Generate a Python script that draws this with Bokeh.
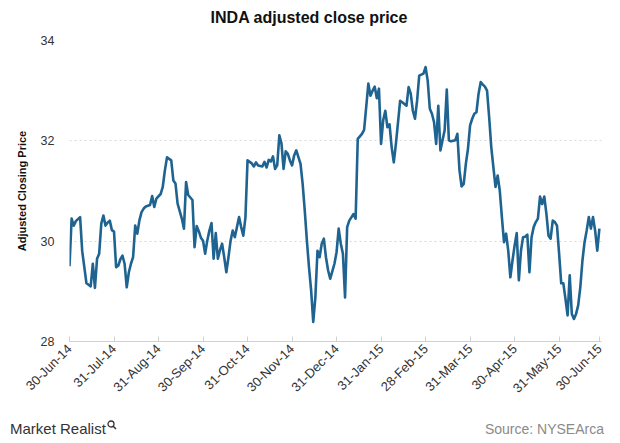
import math
from bokeh.plotting import figure
from bokeh.models import Range1d, FixedTicker, Div
from bokeh.layouts import column
from bokeh.embed import file_html
from bokeh.resources import INLINE

# trading-day index (0 = 30-Jun-14) and adjusted close price
day = [0, 1, 2, 3, 5, 6, 8, 9, 10, 11, 12, 13, 14, 15, 16, 17, 18, 19, 20, 21,
       22, 23, 24, 25, 26, 27, 28, 29, 30, 31, 32, 33, 34, 35, 36, 38, 39, 40, 41, 43,
       44, 45, 46, 47, 48, 49, 50, 51, 53, 54, 55, 56, 57, 58, 59, 60, 61, 62, 63, 64,
       65, 66, 67, 68, 69, 70, 71, 72, 73, 74, 75, 76, 77, 78, 79, 80, 81, 82, 83, 84,
       86, 87, 88, 89, 91, 92, 93, 94, 95, 96, 97, 98, 99, 100, 101, 102, 103, 104, 105, 106,
       107, 109, 110, 111, 112, 113, 114, 115, 116, 117, 118, 119, 120, 121, 122, 123, 125, 126, 127, 128,
       129, 130, 131, 132, 134, 135, 136, 138, 139, 141, 142, 143, 144, 145, 146, 147, 148, 149, 150, 151,
       152, 153, 154, 156, 157, 159, 160, 161, 162, 163, 164, 165, 167, 168, 169, 170, 171, 172, 173, 174,
       175, 176, 177, 178, 179, 180, 182, 183, 184, 185, 186, 187, 188, 189, 190, 191, 192, 193, 194, 195,
       196, 197, 198, 199, 200, 201, 202, 203, 204, 205, 206, 207, 208, 209, 210, 211, 212, 213, 214, 215,
       216, 217, 218, 219, 220, 221, 222, 223, 224, 225, 226, 227, 228, 229, 230, 231, 232, 233, 234, 235,
       236, 237, 238, 239, 240, 241, 242, 243, 244, 245, 246, 247, 248, 249, 250]
price = [29.50, 30.45, 30.31, 30.40, 30.48, 29.80, 29.16, 29.13, 29.10, 29.55, 29.07, 29.65, 29.75, 30.35, 30.51, 30.31, 30.37, 30.41, 30.22, 30.19,
         29.48, 29.51, 29.64, 29.71, 29.55, 29.08, 29.38, 29.55, 29.68, 30.31, 30.15, 30.42, 30.58, 30.65, 30.69, 30.72, 30.90, 30.68, 30.85, 30.94,
         31.08, 31.41, 31.67, 31.64, 31.61, 31.21, 31.15, 30.75, 30.45, 30.25, 31.18, 30.92, 30.87, 30.82, 29.88, 30.30, 30.20, 30.07, 30.01, 29.75,
         30.01, 30.21, 30.36, 29.65, 30.16, 29.65, 29.82, 29.95, 29.68, 29.38, 29.68, 30.01, 30.21, 30.08, 30.28, 30.48, 30.28, 30.11, 30.47, 31.61,
         31.55, 31.49, 31.57, 31.51, 31.49, 31.58, 31.47, 31.62, 31.59, 31.69, 31.44, 31.51, 32.11, 31.95, 31.44, 31.79, 31.74, 31.61, 31.51, 31.71,
         31.81, 31.54, 31.14, 30.61, 30.01, 29.48, 29.02, 28.39, 28.88, 29.81, 29.68, 29.95, 30.05, 29.68, 29.42, 29.25, 29.55, 29.78, 30.25, 29.95,
         29.75, 28.88, 30.28, 30.41, 30.54, 30.45, 32.04, 32.14, 32.22, 33.14, 32.90, 33.00, 33.08, 32.85, 33.04, 31.94, 32.41, 32.60, 32.27, 32.33,
         31.87, 31.57, 31.94, 32.80, 32.77, 32.70, 33.07, 32.94, 32.60, 32.44, 32.80, 33.30, 33.34, 33.47, 33.20, 32.64, 32.54, 32.37, 31.94, 32.70,
         31.81, 32.01, 32.21, 33.02, 32.01, 31.99, 32.01, 32.14, 31.41, 31.09, 31.14, 31.54, 31.84, 32.31, 32.44, 32.54, 32.57, 32.94, 33.17, 33.12,
         33.08, 33.00, 32.47, 31.87, 31.47, 31.08, 31.31, 31.01, 30.48, 29.98, 30.15, 29.81, 29.28, 29.61, 29.91, 30.16, 29.22, 29.81, 30.08, 30.09,
         30.13, 29.38, 30.08, 30.28, 30.38, 30.45, 30.89, 30.74, 30.89, 30.55, 30.11, 30.05, 30.41, 30.38, 30.31, 29.75, 29.16, 29.16, 28.85, 28.52,
         29.32, 28.55, 28.45, 28.55, 28.72, 29.08, 29.61, 29.98, 30.21, 30.48, 30.25, 30.48, 30.21, 29.81, 30.25]

tick_days = [0, 21, 42, 63, 84, 105, 126, 147, 168, 189, 210, 231, 250]
tick_labels = ["30-Jun-14", "31-Jul-14", "31-Aug-14", "30-Sep-14", "31-Oct-14", "30-Nov-14",
               "31-Dec-14", "31-Jan-15", "28-Feb-15", "31-Mar-15", "30-Apr-15", "31-May-15", "30-Jun-15"]
y_ticks = [28, 30, 32, 34]

FONT = "Liberation Sans"

title_div = Div(
    text=("<div style=\"width:618px;height:30px;line-height:36px;text-align:center;"
          "font-family:'Liberation Sans';font-weight:bold;font-size:16px;color:#111111;\">"
          "INDA adjusted close price</div>"),
    width=618, height=30, margin=0)

p = figure(width=618, height=380, output_backend="svg", toolbar_location=None,
           x_range=Range1d(0, 251), y_range=Range1d(28, 34),
           min_border_left=69, min_border_right=17, min_border_top=10, min_border_bottom=69)
p.outline_line_color = None
p.background_fill_color = "white"
p.border_fill_color = "white"
p.margin = 0

p.line(day, price, line_color="#1f6391", line_width=2.6, line_join="round")

# x axis
p.xaxis.ticker = FixedTicker(ticks=tick_days)
p.xaxis.major_label_overrides = {d: l for d, l in zip(tick_days, tick_labels)}
p.xaxis.major_label_orientation = math.pi / 4
p.xaxis.axis_line_color = "#d0d0d0"
p.xaxis.major_tick_line_color = "#d0d0d0"
p.xaxis.major_tick_in = 5
p.xaxis.major_tick_out = 0
p.xaxis.minor_tick_line_color = None
p.xaxis.major_label_text_font = FONT
p.xaxis.major_label_text_font_size = "13px"
p.xaxis.major_label_text_color = "#333333"
p.xaxis.major_label_standoff = 5

# y axis
p.yaxis.ticker = FixedTicker(ticks=y_ticks)
p.yaxis.axis_line_color = None
p.yaxis.major_tick_line_color = None
p.yaxis.minor_tick_line_color = None
p.yaxis.major_label_text_font = FONT
p.yaxis.major_label_text_font_size = "12.5px"
p.yaxis.major_label_text_color = "#333333"
p.yaxis.major_label_standoff = 9
p.yaxis.axis_label = "Adjusted Closing Price"
p.yaxis.axis_label_text_font = FONT
p.yaxis.axis_label_text_font_style = "bold"
p.yaxis.axis_label_text_font_size = "11px"
p.yaxis.axis_label_text_color = "#111111"
p.yaxis.axis_label_standoff = 10

p.xgrid.grid_line_color = None
p.ygrid.grid_line_color = "#d8d8d8"
p.ygrid.grid_line_dash = "2 3"

icon = ("<svg width=\"10\" height=\"10\" style=\"vertical-align:top;margin-left:1px;\">"
        "<circle cx=\"4\" cy=\"4\" r=\"3\" stroke=\"#333333\" stroke-width=\"1.3\" fill=\"none\"/>"
        "<line x1=\"6\" y1=\"6\" x2=\"9\" y2=\"9\" stroke=\"#333333\" stroke-width=\"1.5\"/></svg>")
footer_div = Div(
    text=("<div style=\"width:594px;height:31px;margin-left:10px;display:flex;"
          "justify-content:space-between;align-items:flex-start;padding-top:10px;"
          "font-family:'Liberation Sans';box-sizing:border-box;\">"
          "<span style=\"font-size:15px;line-height:17px;color:#333333;\">Market Realist" + icon + "</span>"
          "<span style=\"font-size:14px;line-height:17px;color:#8a8a8a;margin-top:1px;\">Source: NYSEArca</span>"
          "</div>"),
    width=618, height=31, margin=0)

layout = column(title_div, p, footer_div, spacing=0)

open("out.html", "w").write(file_html(layout, INLINE))
